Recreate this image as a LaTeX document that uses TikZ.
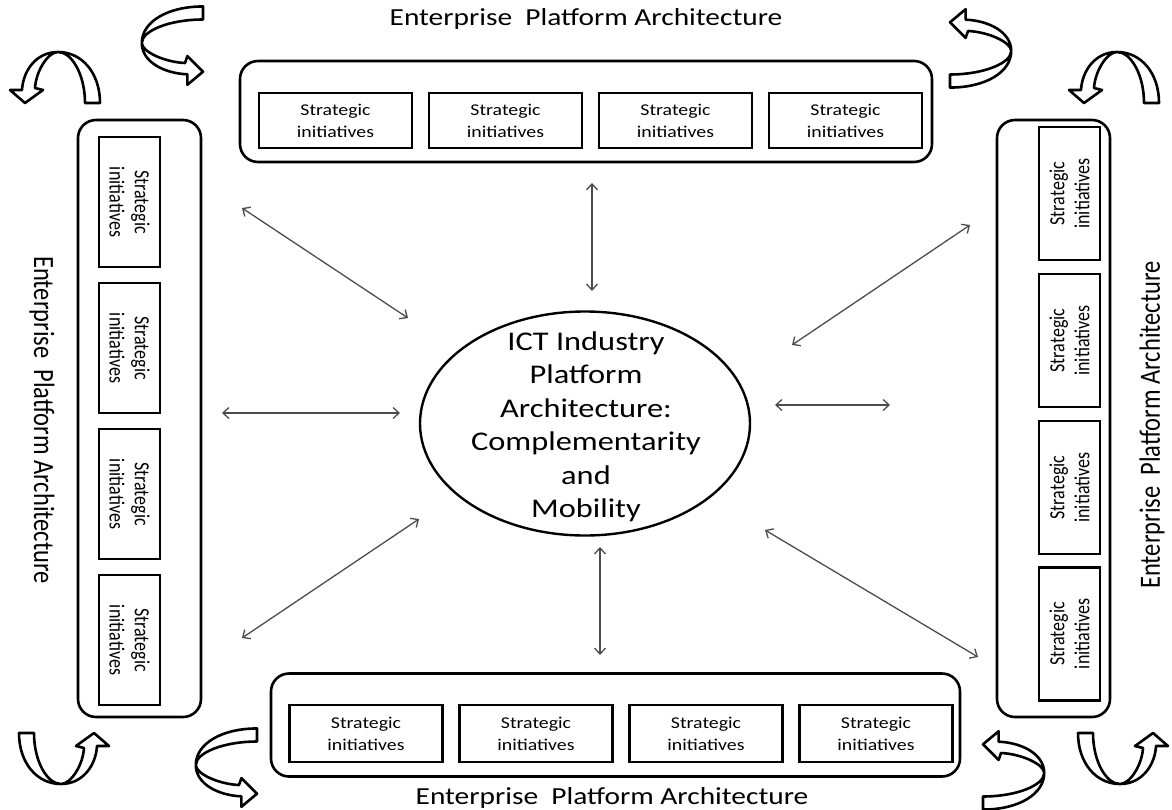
\documentclass[tikz,border=0pt]{standalone}
\usepackage{fontspec}
\usepackage{graphicx}
\setmainfont{Carlito}
\newfontfamily\hfont[FakeStretch=1.2]{Carlito}
\newfontfamily\vfont{Carlito}
\usetikzlibrary{arrows.meta,shapes.geometric}
\tikzset{
  panel/.style={draw=black, line width=2.6pt, rounded corners=18pt, inner sep=0pt},
  sbox/.style={draw=black, line width=2.6pt, inner sep=0pt, align=center, font=\hfont\fontsize{16.5}{22}\selectfont},
  vbox/.style={draw=black, line width=2.6pt, inner sep=0pt, align=center, font=\vfont\fontsize{18}{21}\selectfont},
  htitle/.style={font=\hfont\fontsize{24.5}{29}\selectfont, inner sep=0pt},
  vtitle/.style={font=\vfont\fontsize{24.5}{29}\selectfont, inner sep=0pt},
  link/.style={{Straight Barb[length=6pt,width=11pt]}-{Straight Barb[length=6pt,width=11pt]}, draw=black!70, line width=1.3pt},
  carrow/.style={draw=black, fill=white, line width=2.6pt, line join=round}
}
\newcommand\curvedarrow[4]{%
  \begin{scope}[shift={(#1,#2)},rotate=#3,#4]
    \draw[carrow] (42,0) .. controls (42,30) and (24,51) .. (0,51)
      .. controls (-22,51) and (-35,32) .. (-36,13)
      -- (-48,13) -- (-33,0) -- (-15,13) -- (-23,15)
      .. controls (-22,32) and (-10,51) .. (0,51)
      .. controls (14,51) and (27,28) .. (27,0) -- cycle;
  \end{scope}}
\begin{document}
\begin{tikzpicture}[x=1pt,y=-1pt]
\useasboundingbox (0,0) rectangle (1172,809);

% panels
\node[panel, minimum width=692, minimum height=101] (top) at (586,111.5) {};
\node[panel, minimum width=689, minimum height=103] (bottom) at (615.5,725) {};
\node[panel, minimum width=123, minimum height=597] (left) at (139.5,418.5) {};
\node[panel, minimum width=113, minimum height=597] (right) at (1053.5,418.5) {};

% top boxes
\foreach \i/\x in {1/335.5,2/505.5,3/675.5,4/845.5}
  \node[sbox, minimum width=153, minimum height=55] (t\i) at (\x,120.5) {Strategic\\initiatives};
% bottom boxes
\foreach \i/\x in {1/366,2/536,3/706,4/876}
  \node[sbox, minimum width=153, minimum height=57] (b\i) at (\x,733.5) {Strategic\\initiatives};
% left boxes (text frame: width along image y, height along image x)
\foreach \i/\y in {1/202,2/348,3/494,4/640}
  \node[rotate=-90, yscale=1.2, vbox, minimum width=130, minimum height=50.8] (l\i) at (129.5,\y) {Strategic\\initiatives};
% right boxes
\foreach \i/\y in {1/193.5,2/340.5,3/487.5,4/634}
  \node[rotate=90, yscale=1.2, vbox, minimum width=133, minimum height=50.8] (r\i) at (1069.5,\y) {Strategic\\initiatives};

% titles
\node[htitle, anchor=base] (ttop) at (586,25) {Enterprise\ \ Platform Architecture};
\node[htitle, anchor=base] (tbot) at (612,804) {Enterprise\ \ Platform Architecture};
\node[rotate=-90, yscale=1.2, vtitle] (tleft) at (42,420) {Enterprise\ \ Platform Architecture};
\node[rotate=90, yscale=1.2, vtitle] (tright) at (1152,425) {Enterprise\ \ Platform Architecture};

% centre
\node[draw=black, line width=2.4pt, ellipse, minimum width=330, minimum height=224, inner sep=0pt] (core) at (585,423.5) {};
\node[font=\hfont\fontsize{27}{33.5}\selectfont, align=center, inner sep=0pt] (coretext) at (586,427) {ICT Industry\\Platform\\Architecture:\\Complementarity\\and\\Mobility};

% connectors
\coordinate (n1) at (592,183); \coordinate (n2) at (592,291);
\coordinate (s1) at (600,547); \coordinate (s2) at (600,655);
\coordinate (w1) at (222,413); \coordinate (w2) at (400,413);
\coordinate (e1) at (775,405); \coordinate (e2) at (890,405);
\coordinate (nw1) at (242,208); \coordinate (nw2) at (408,318);
\coordinate (sw1) at (242,638); \coordinate (sw2) at (419,519);
\coordinate (ne1) at (792,345); \coordinate (ne2) at (970,225);
\coordinate (se1) at (765,530); \coordinate (se2) at (978,657);
\draw[link] (n1) -- (n2);
\draw[link] (s1) -- (s2);
\draw[link] (w1) -- (w2);
\draw[link] (e1) -- (e2);
\draw[link] (nw1) -- (nw2);
\draw[link] (sw1) -- (sw2);
\draw[link] (ne1) -- (ne2);
\draw[link] (se1) -- (se2);

% corner curved arrows
\curvedarrow{58}{103}{0}{yscale=-1}
\curvedarrow{1117}{103}{0}{yscale=-1}
\curvedarrow{61}{733}{180}{yscale=-1}
\curvedarrow{1120}{733}{180}{yscale=-1}
\curvedarrow{203}{43}{90}{yscale=-1.2,xscale=0.87}
\curvedarrow{257}{765}{90}{yscale=-1.2,xscale=0.87}
\curvedarrow{950}{51}{-90}{yscale=-1.2,xscale=0.87}
\curvedarrow{983}{773}{-90}{yscale=-1.2,xscale=0.87}
\end{tikzpicture}
\end{document}
